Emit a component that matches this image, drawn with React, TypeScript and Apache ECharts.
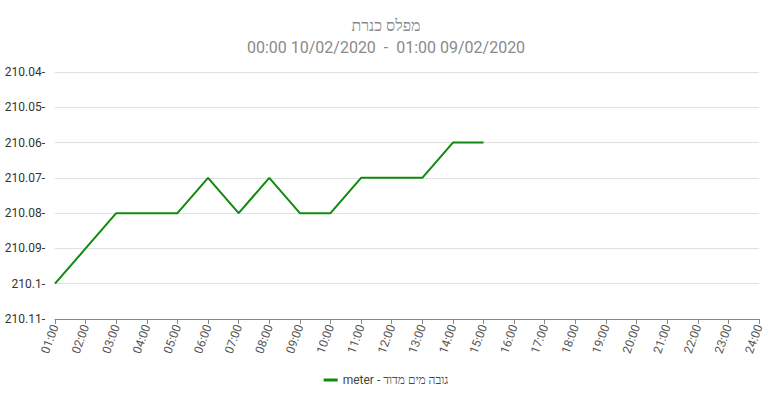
import React, { useEffect, useRef } from "react";
import * as echarts from "echarts";

const hours = [
  "01:00", "02:00", "03:00", "04:00", "05:00", "06:00", "07:00", "08:00",
  "09:00", "10:00", "11:00", "12:00", "13:00", "14:00", "15:00", "16:00",
  "17:00", "18:00", "19:00", "20:00", "21:00", "22:00", "23:00", "24:00",
];
const levels = [
  -210.1, -210.09, -210.08, -210.08, -210.08, -210.07, -210.08, -210.07,
  -210.08, -210.08, -210.07, -210.07, -210.07, -210.06, -210.06,
];
const seriesName = "meter - גובה מים מדוד";
const titleText = "מפלס כנרת";
const subtitleText = "00:00 10/02/2020  -  01:00 09/02/2020";
const yMin = -210.11;
const yMax = -210.04;
const yStep = 0.01;

export default function App() {
  const ref = useRef<HTMLDivElement>(null);
  useEffect(() => {
    const chart = echarts.init(ref.current!, null, { renderer: "svg" });
    chart.setOption({
      animation: false,
      textStyle: { fontFamily: "Roboto" },
      title: {
        text: titleText,
        subtext: subtitleText,
        left: "center",
        top: 12,
        itemGap: 6,
        textStyle: { fontSize: 16, fontWeight: "normal", color: "#8a8a8a", fontFamily: "Roboto" },
        subtextStyle: { fontSize: 16, color: "#8a8a8a", fontFamily: "Roboto" },
      },
      legend: {
        bottom: 11,
        left: "center",
        itemWidth: 14,
        itemHeight: 3,
        icon: "rect",
        textStyle: { fontSize: 12, color: "#444", fontFamily: "Roboto" },
        data: [seriesName],
      },
      grid: {
        left: 55,
        right: 13,
        top: 72,
        bottom: 83,
        containLabel: false,
        outerBoundsMode: "none",
      },
      xAxis: {
        type: "category",
        data: hours,
        boundaryGap: false,
        axisLine: { lineStyle: { color: "#888" } },
        axisTick: { alignWithLabel: true, length: 5, lineStyle: { color: "#888" } },
        axisLabel: { rotate: 70, color: "#555", fontSize: 12, interval: 0, margin: 6, fontFamily: "Roboto" },
        splitLine: { show: false },
      },
      yAxis: {
        type: "value",
        min: yMin,
        max: yMax,
        interval: yStep,
        axisLine: { show: false },
        axisTick: { show: false },
        axisLabel: {
          color: "#333",
          fontSize: 12,
          fontFamily: "Roboto",
          margin: 10,
          overflow: "none",
          formatter: (v: number) => String(Number((-v).toFixed(2))) + "-",
        },
        splitLine: { lineStyle: { color: "#e0e0e0" } },
      },
      series: [
        {
          name: seriesName,
          type: "line",
          data: levels,
          showSymbol: false,
          symbol: "none",
          lineStyle: { color: "#0f8a0f", width: 2 },
          itemStyle: { color: "#0f8a0f" },
        },
      ],
    });
    return () => chart.dispose();
  }, []);
  return (
    <div
      ref={ref}
      style={{ position: "absolute", left: 0, top: 0, width: 772, height: 402 }}
    />
  );
}
